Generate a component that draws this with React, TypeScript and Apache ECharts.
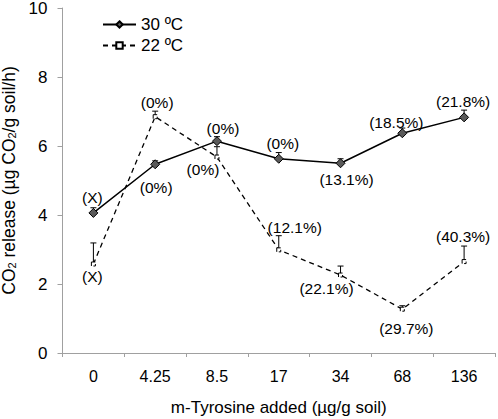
import React, { useEffect, useRef } from "react";
import * as echarts from "echarts";

const categories = ["0", "4.25", "8.5", "17", "34", "68", "136"];
const warmValues = [4.06, 5.47, 6.14, 5.63, 5.5, 6.37, 6.83];
const warmErr = [0.15, 0.1, 0.13, 0.18, 0.13, 0.15, 0.21];
const warmLabels = ["(X)", "(0%)", "(0%)", "(0%)", "(13.1%)", "(18.5%)", "(21.8%)"];
const coolValues = [2.58, 6.85, 5.68, 2.99, 2.26, 1.27, 2.65];
const coolErr = [0.61, 0.16, 0.3, 0.41, 0.26, 0.1, 0.45];
const coolLabels = ["(X)", "(0%)", "(0%)", "(12.1%)", "(22.1%)", "(29.7%)", "(40.3%)"];
const warmName = "30 ºC";
const coolName = "22 ºC";

// label offsets (pixels relative to the point)
const warmOffsets = [[-1, -15], [1, 23], [6, -13], [4, -15], [6, 16], [-6, -11], [-1, -16]];
const coolOffsets = [[-1, 13], [2, -14], [-14, 12], [16, -22], [-14, 13], [4, 19], [-1, -25]];

const FONT = "'Liberation Sans', Arial, Helvetica, sans-serif";

export default function App() {
  const ref = useRef<HTMLDivElement>(null);
  useEffect(() => {
    const chart = echarts.init(ref.current!, null, { renderer: "svg" });
    const errRender = (params: any, api: any) => {
      const lo = api.coord([api.value(0), api.value(1)]);
      const hi = api.coord([api.value(0), api.value(2)]);
      const style = { stroke: "#000", lineWidth: 1 };
      return {
        type: "group",
        children: [
          { type: "line", shape: { x1: lo[0], y1: lo[1], x2: hi[0], y2: hi[1] }, style },
          { type: "line", shape: { x1: hi[0] - 3, y1: hi[1], x2: hi[0] + 3, y2: hi[1] }, style },
        ],
      };
    };
    const mkData = (vals: number[], labels: string[], offs: number[][]) =>
      vals.map((v, i) => ({
        value: v,
        label: {
          show: true,
          formatter: labels[i],
          position: "inside",
          offset: offs[i],
          color: "#000",
          fontSize: 15.5,
          fontFamily: FONT,
        },
      }));
    chart.setOption({
      animation: false,
      grid: { left: 62.5, right: 3, top: 8, bottom: 66, containLabel: false, outerBoundsMode: "none" },
      legend: {
        left: 97,
        top: 10,
        orient: "vertical",
        itemWidth: 33,
        itemHeight: 8,
        itemGap: 2,
        textStyle: { fontSize: 17, fontFamily: FONT, color: "#000", lineHeight: 19 },
        data: [warmName, coolName],
      },
      xAxis: {
        type: "category",
        data: categories,
        boundaryGap: true,
        axisLine: { lineStyle: { color: "#a0a0a0", width: 1 } },
        axisTick: { show: true, length: 4, lineStyle: { color: "#a0a0a0" } },
        axisLabel: { color: "#000", fontSize: 16, fontFamily: FONT, margin: 15 },
        name: "m-Tyrosine added (µg/g soil)",
        nameLocation: "middle",
        nameGap: 46,
        nameTextStyle: { color: "#000", fontSize: 17, fontFamily: FONT },
      },
      yAxis: {
        type: "value",
        min: 0,
        max: 10,
        interval: 2,
        splitLine: { show: false },
        axisLine: { show: true, lineStyle: { color: "#a0a0a0", width: 1 } },
        axisTick: { show: true, length: 5, lineStyle: { color: "#a0a0a0" } },
        axisLabel: { color: "#000", fontSize: 17, fontFamily: FONT, margin: 15 },
        name: "CO{sub|2} release (µg CO{sub|2}/g soil/h)",
        nameLocation: "middle",
        nameRotate: 90,
        nameGap: 45,
        nameTextStyle: {
          color: "#000",
          fontSize: 17.5,
          fontFamily: FONT,
          rich: {
            sub: { fontSize: 11, fontFamily: FONT, color: "#000", verticalAlign: "bottom", lineHeight: 12, padding: [8, 0, 0, 0] },
          },
        },
      },
      series: [
        {
          name: warmName,
          type: "line",
          data: mkData(warmValues, warmLabels, warmOffsets),
          symbol: "diamond",
          symbolSize: 9,
          itemStyle: { color: "#5a5a5a", borderColor: "#000", borderWidth: 1 },
          lineStyle: { color: "#000", width: 1.5 },
          z: 3,
        },
        {
          name: coolName,
          type: "line",
          data: mkData(coolValues, coolLabels, coolOffsets),
          symbol: "rect",
          symbolSize: 4,
          itemStyle: { color: "#fff", borderColor: "#000", borderWidth: 1, borderType: "dashed" },
          lineStyle: { color: "#000", width: 1.3, type: [5, 4] },
          z: 3,
        },
        {
          type: "custom",
          renderItem: errRender,
          data: warmValues.map((v, i) => [i, v, v + warmErr[i]]),
          z: 2,
        },
        {
          type: "custom",
          renderItem: errRender,
          data: coolValues.map((v, i) => [i, v, v + coolErr[i]]),
          z: 2,
        },
      ],
    });
    return () => chart.dispose();
  }, []);
  return <div ref={ref} style={{ width: 498, height: 419, position: "absolute", left: 0, top: 0, background: "#fff" }} />;
}
